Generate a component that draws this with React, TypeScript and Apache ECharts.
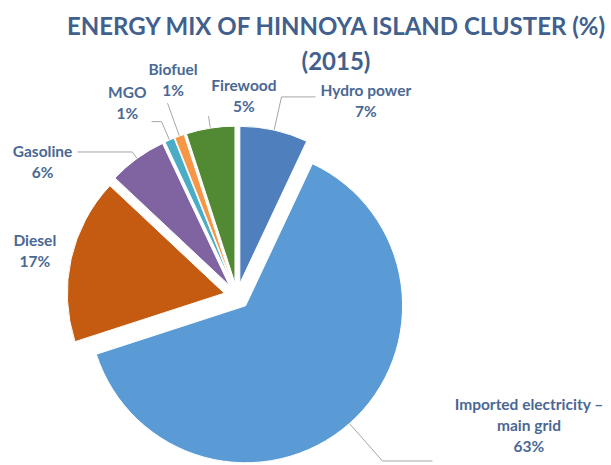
import React, { useEffect, useRef } from "react";
import * as echarts from "echarts";

const titleLines = ["ENERGY MIX OF HINNOYA ISLAND CLUSTER (%)", "(2015)"];
const categories = [
  "Hydro power",
  "Imported electricity – main grid",
  "Diesel",
  "Gasoline",
  "MGO",
  "Biofuel",
  "Firewood",
];
const shares = [7, 63, 17, 6, 1, 1, 5];
const labelLines = [
  ["Hydro power"],
  ["Imported electricity –", "main grid"],
  ["Diesel"],
  ["Gasoline"],
  ["MGO"],
  ["Biofuel"],
  ["Firewood"],
];

const colors = ["#4f80bd", "#5b9bd5", "#c55a11", "#8064a2", "#4bacc6", "#f79646", "#518a33"];
// per-slice label placement: [lineLength, lineLength2, distance, padding, showLine]
const labelPlacement: [number, number, number, number[], boolean][] = [
  [34, 34, 5, [8, 0, 0, 0], true],
  [50, 50, 4, [0, 0, 72, 18], true],
  [5, 5, 5, [0, 0, 14, 0], false],
  [8, 55, 5, [20, 0, 0, 0], true],
  [20, 10, 5, [0, 0, 38, 0], true],
  [35, 0, -30, [0, 0, 48, 0], true],
  [12, 0, -68, [0, 0, 42, 0], true],
];

export default function App() {
  const ref = useRef<HTMLDivElement>(null);
  useEffect(() => {
    if (!ref.current) return;
    const chart = echarts.init(ref.current, null, { renderer: "svg" });
    const labelColor = "#4a6894";
    const titleColor = "#42608d";
    chart.setOption({
      animation: false,
      backgroundColor: "#ffffff",
      graphic: [
        {
          type: "text",
          style: {
            text: titleLines[0],
            x: 336,
            y: 25,
            textAlign: "center",
            textVerticalAlign: "middle",
            fill: titleColor,
            font: "bold 24px Lato",
          },
        },
        {
          type: "text",
          style: {
            text: titleLines[1],
            x: 336,
            y: 60,
            textAlign: "center",
            textVerticalAlign: "middle",
            fill: titleColor,
            font: "bold 24px Lato",
          },
        },
      ],
      series: [
        {
          type: "pie",
          center: [237, 296],
          radius: [0, 157],
          startAngle: 90,
          clockwise: true,
          selectedMode: "multiple",
          selectedOffset: 13,
          avoidLabelOverlap: false,
          itemStyle: { borderColor: "#ffffff", borderWidth: 1 },
          label: {
            show: true,
            position: "outside",
            alignTo: "none",
            formatter: (p: any) =>
              [...labelLines[p.dataIndex], `${p.value}%`].map((s) => `{t|${s}}`).join("\n"),
            rich: {
              t: {
                color: labelColor,
                fontFamily: "Lato",
                fontWeight: "bold",
                fontSize: 15.5,
                lineHeight: 21,
                align: "center",
              },
            },
          },
          labelLine: {
            show: true,
            lineStyle: { color: "#a6a6a6", width: 1 },
          },
          emphasis: { disabled: true },
          data: categories.map((name, i) => {
            const [len, len2, dist, pad, showLine] = labelPlacement[i];
            return {
              name,
              value: shares[i],
              selected: true,
              itemStyle: { color: colors[i] },
              label: { distanceToLabelLine: dist, padding: pad },
              labelLine: { show: showLine, length: len, length2: len2 },
            };
          }),
        },
      ],
    });
    return () => chart.dispose();
  }, []);
  return (
    <div
      ref={ref}
      style={{ position: "fixed", left: 0, top: 0, width: 611, height: 465 }}
    />
  );
}
